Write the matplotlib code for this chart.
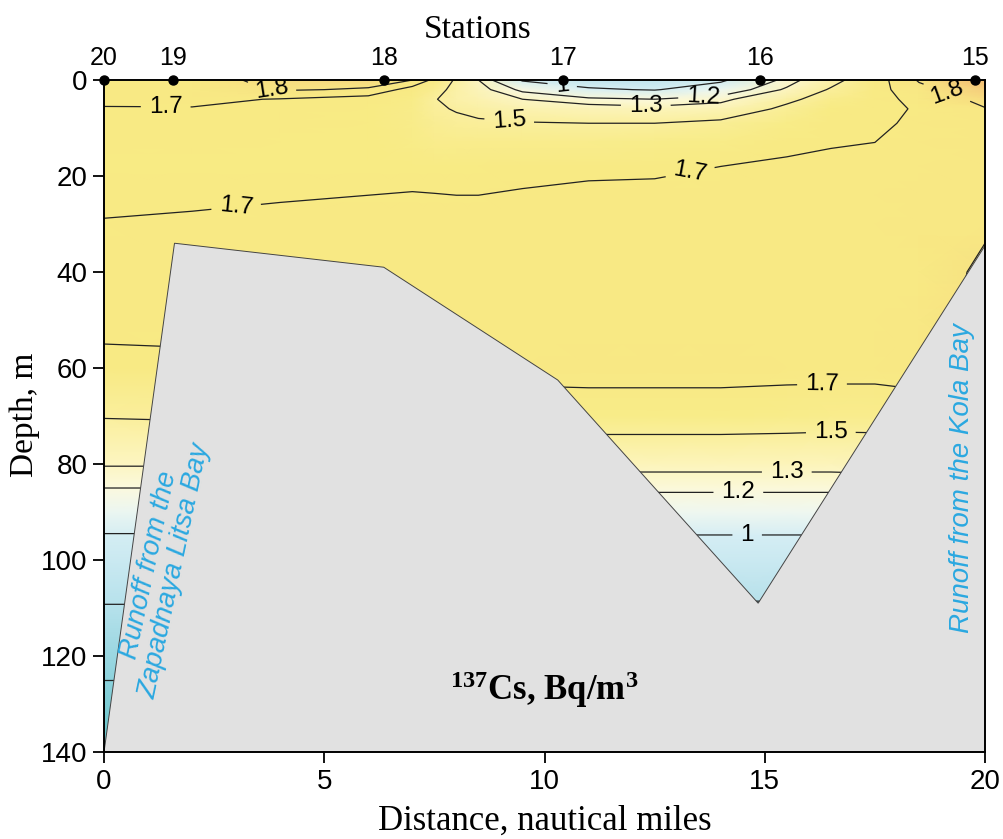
import numpy as np
import matplotlib
matplotlib.use("Agg")
import matplotlib.pyplot as plt
from matplotlib.colors import LinearSegmentedColormap, Normalize
from matplotlib.patches import Polygon

plt.rcParams["font.family"] = ["Liberation Sans", "DejaVu Sans"]
plt.rcParams["mathtext.default"] = "regular"

# grid nodes (distance, nautical miles / depth, m)
dist = [0, 2, 4, 6, 7, 7.5, 8, 8.5, 9.5, 11, 12.5, 14, 15.5, 16.5, 17.5, 18.5, 20]
depth = [0, 2, 4, 6, 9, 13, 18, 24, 30, 40, 50, 60, 70, 80, 85, 90, 95, 100, 110, 125, 140]

# 137Cs, Bq/m3, one row per depth
cs = [
    [1.75, 1.76, 1.83, 1.84, 1.80, 1.67, 1.47, 1.30, 0.98, 0.92, 0.92, 0.97, 1.24, 1.43, 1.65, 1.81, 1.92],
    [1.73, 1.745, 1.81, 1.79, 1.65, 1.56, 1.45, 1.35, 1.17, 1.02, 0.99, 1.10, 1.32, 1.52, 1.66, 1.77, 1.87],
    [1.715, 1.72, 1.695, 1.65, 1.60, 1.51, 1.44, 1.40, 1.30, 1.23, 1.20, 1.26, 1.46, 1.58, 1.665, 1.73, 1.83],
    [1.695, 1.695, 1.67, 1.63, 1.59, 1.52, 1.49, 1.46, 1.40, 1.36, 1.34, 1.37, 1.54, 1.62, 1.67, 1.71, 1.795],
    [1.67, 1.67, 1.65, 1.62, 1.59, 1.55, 1.53, 1.52, 1.51, 1.50, 1.50, 1.54, 1.60, 1.65, 1.68, 1.72, 1.78],
    [1.65, 1.65, 1.64, 1.62, 1.60, 1.58, 1.58, 1.58, 1.58, 1.58, 1.59, 1.60, 1.67, 1.69, 1.70, 1.74, 1.77],
    [1.64, 1.645, 1.645, 1.64, 1.63, 1.63, 1.63, 1.64, 1.65, 1.68, 1.685, 1.70, 1.72, 1.73, 1.73, 1.76, 1.77],
    [1.66, 1.675, 1.69, 1.70, 1.71, 1.705, 1.70, 1.70, 1.715, 1.72, 1.72, 1.73, 1.74, 1.75, 1.75, 1.77, 1.77],
    [1.71, 1.72, 1.73, 1.73, 1.74, 1.74, 1.74, 1.74, 1.74, 1.74, 1.74, 1.75, 1.75, 1.76, 1.76, 1.77, 1.79],
    [1.76, 1.76, 1.76, 1.76, 1.76, 1.76, 1.76, 1.76, 1.76, 1.76, 1.76, 1.76, 1.76, 1.76, 1.76, 1.76, 1.815],
    [1.74, 1.74, 1.74, 1.74, 1.74, 1.74, 1.74, 1.74, 1.74, 1.75, 1.75, 1.75, 1.75, 1.75, 1.76, 1.77, 1.82],
    [1.66, 1.67, 1.69, 1.71, 1.72, 1.73, 1.74, 1.75, 1.76, 1.77, 1.77, 1.77, 1.76, 1.76, 1.76, 1.78, 1.80],
    [1.51, 1.52, 1.54, 1.56, 1.57, 1.58, 1.59, 1.59, 1.60, 1.60, 1.60, 1.60, 1.59, 1.58, 1.58, 1.60, 1.62],
    [1.31, 1.31, 1.32, 1.32, 1.33, 1.33, 1.33, 1.34, 1.34, 1.34, 1.34, 1.34, 1.34, 1.34, 1.35, 1.35, 1.35],
    [1.20, 1.20, 1.21, 1.21, 1.21, 1.22, 1.22, 1.22, 1.22, 1.22, 1.22, 1.22, 1.22, 1.22, 1.22, 1.22, 1.22],
    [1.09, 1.09, 1.10, 1.10, 1.10, 1.10, 1.11, 1.11, 1.11, 1.11, 1.11, 1.11, 1.11, 1.11, 1.11, 1.11, 1.11],
    [0.99, 0.99, 0.99, 0.99, 0.99, 0.99, 0.995, 0.995, 0.995, 0.995, 0.995, 0.995, 0.995, 0.995, 0.995, 0.995, 0.995],
    [0.96, 0.96, 0.96, 0.96, 0.96, 0.96, 0.96, 0.96, 0.96, 0.96, 0.96, 0.96, 0.96, 0.96, 0.96, 0.96, 0.96],
    [0.895, 0.895, 0.895, 0.89, 0.89, 0.89, 0.89, 0.89, 0.89, 0.89, 0.89, 0.89, 0.89, 0.89, 0.89, 0.89, 0.89],
    [0.80, 0.80, 0.80, 0.80, 0.80, 0.80, 0.80, 0.80, 0.80, 0.80, 0.80, 0.80, 0.80, 0.80, 0.80, 0.80, 0.80],
    [0.70, 0.70, 0.70, 0.70, 0.70, 0.70, 0.70, 0.70, 0.70, 0.70, 0.70, 0.70, 0.70, 0.70, 0.70, 0.70, 0.70],
]

levels = [0.8, 0.9, 1.0, 1.2, 1.3, 1.5, 1.7, 1.8]

# sea floor profile
bottom_x = [0, 1.6, 6.35, 10.3, 14.85, 20, 20]
bottom_z = [140, 34, 39, 62.5, 109, 34.5, 140]

stations = ["20", "19", "18", "17", "16", "15"]
station_x = [0, 1.57, 6.36, 10.42, 14.89, 19.77]

# contour label positions (distance, depth)
label_pos = [(3.8, 2), (1.4, 5.5), (3.0, 26.5), (9.2, 8.3), (10.4, 1.2), (12.3, 5.2),
             (13.6, 3.6), (13.3, 18.9), (19.1, 3.5), (16.3, 63.8), (16.5, 73.5),
             (15.5, 81.8), (14.4, 86), (14.6, 94.8)]

cmap_vals = [0.70, 0.80, 0.90, 1.00, 1.10, 1.20, 1.30, 1.50, 1.62, 1.80, 1.87, 1.95]
cmap_cols = ["#62c2c6", "#8ed2dc", "#b9e2ec", "#d6eef4", "#eef7f1", "#fbf9de",
             "#fcf5c2", "#faef9e", "#f8eb84", "#f8e884", "#f5cf7c", "#f1ae6a"]
vmin, vmax = cmap_vals[0], cmap_vals[-1]
cmap = LinearSegmentedColormap.from_list(
    "cs", [((v - vmin) / (vmax - vmin), c) for v, c in zip(cmap_vals, cmap_cols)])

X, Z = np.meshgrid(dist, depth)
C = np.array(cs)

fig = plt.figure(figsize=(10.04, 8.39), dpi=100)
ax = fig.add_axes([0.1036, 0.1037, 0.8775, 0.8009])

ax.pcolormesh(X, Z, C, shading="gouraud", cmap=cmap, norm=Normalize(vmin, vmax), zorder=1)
cn = ax.contour(X, Z, C, levels=levels, colors="#222222", linewidths=0.9, zorder=2)
ax.clabel(cn, manual=label_pos, inline=True, inline_spacing=8, fontsize=17.5,
          fmt=lambda v: f"{v:g}", colors="black")

ax.add_patch(Polygon(list(zip(bottom_x, bottom_z)), closed=True, facecolor="#e1e1e1",
                     edgecolor="#444444", linewidth=0.7, zorder=5))

ax.set_xlim(0, 20)
ax.set_ylim(140, 0)
ax.set_xticks([0, 5, 10, 15, 20])
ax.set_yticks(range(0, 141, 20))
ax.tick_params(labelsize=20, length=8, width=1.3, direction="out", pad=4)
for s in ax.spines.values():
    s.set_linewidth(1.4)
    s.set_zorder(8)

# stations along the top
ax.plot(station_x, [0] * len(station_x), "o", color="black", ms=6.5, clip_on=False, zorder=10)
for sx, name in zip(station_x, stations):
    ax.text(sx, 1.033, name, transform=ax.get_xaxis_transform(), ha="center", va="center",
            fontsize=18)

serif = ["Liberation Serif", "DejaVu Serif"]
ax.text(8.49, 1.075, "Stations", transform=ax.get_xaxis_transform(), ha="center",
        va="center", fontsize=24, family=serif)
fig.text(0.543, 0.021, "Distance, nautical miles", ha="center", va="center",
         fontsize=25, family=serif)
fig.text(0.025, 0.505, "Depth, m", ha="center", va="center", rotation=90,
         fontsize=24, family=serif)

ax.text(10.0, 127, r"$^{137}$Cs, Bq/m$^{3}$", ha="center", va="center", fontsize=25,
        family=serif, fontweight="bold", zorder=9)

blue = "#2aa8e0"
ax.text(1.32, 101.7, "Runoff from the\nZapadnaya Litsa Bay", rotation=78, ha="center",
        va="center", fontsize=20, style="italic", color=blue, zorder=9, linespacing=1.05,
        rotation_mode="anchor")
ax.text(19.47, 83, "Runoff from the Kola Bay", rotation=90, ha="center", va="center",
        fontsize=20, style="italic", color=blue, zorder=9)

fig.savefig("out.png", dpi=100)
